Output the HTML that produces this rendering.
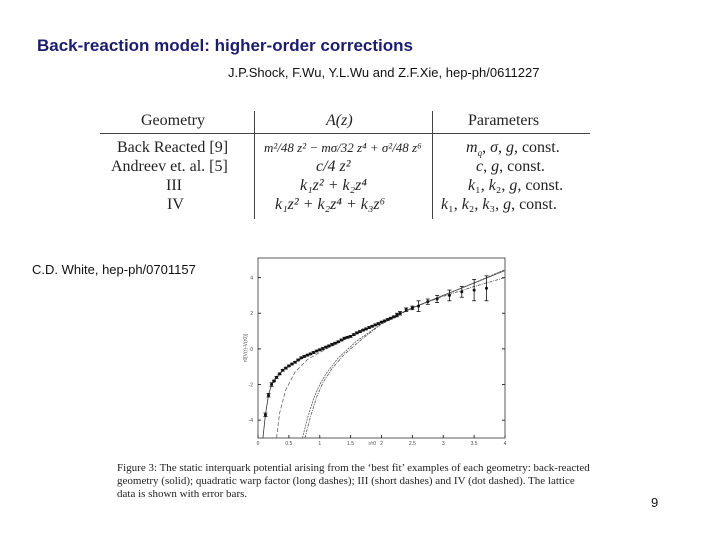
<!DOCTYPE html>
<html><head><meta charset="utf-8"><style>
body{margin:0;width:720px;height:540px;background:#fff;position:relative;overflow:hidden;font-family:"Liberation Sans",sans-serif}
.a{position:absolute;white-space:nowrap}
.tb{font-family:"Liberation Serif",serif;font-size:16px;color:#222}
.cap{font-family:"Liberation Serif",serif;font-size:11px;color:#222;left:117px}
</style></head><body>
<div class="a" style="left:37px;top:36px;font-size:17px;font-weight:bold;color:#1c1c6e">Back-reaction model: higher-order corrections</div>
<div class="a" style="left:228px;top:65px;font-size:13px;color:#111">J.P.Shock, F.Wu, Y.L.Wu and Z.F.Xie, hep-ph/0611227</div>
<div>
<div class="a" style="left:100px;top:133px;width:490px;height:1px;background:#444"></div>
<div class="a" style="left:254px;top:111px;width:1px;height:108px;background:#444"></div>
<div class="a" style="left:432px;top:111px;width:1px;height:108px;background:#444"></div>
<div class="a tb" style="left:141px;top:112px">Geometry</div>
<div class="a tb" style="left:326px;top:112px;font-style:italic">A(z)</div>
<div class="a tb" style="left:468px;top:112px">Parameters</div>
<div class="a tb" style="left:117px;top:139px">Back Reacted [9]</div>
<div class="a tb" style="left:111px;top:158px">Andreev et. al. [5]</div>
<div class="a tb" style="left:166px;top:177px">III</div>
<div class="a tb" style="left:167px;top:196px">IV</div>
<div class="a tb" style="left:264px;top:140px;font-size:13px;font-style:italic">m²/48 z² − mσ/32 z⁴ + σ²/48 z⁶</div>
<div class="a tb" style="left:316px;top:158px;font-style:italic">c/4 z²</div>
<div class="a tb" style="left:300px;top:177px;font-style:italic">k₁z² + k₂z⁴</div>
<div class="a tb" style="left:275px;top:196px;font-style:italic">k₁z² + k₂z⁴ + k₃z⁶</div>
<div class="a tb" style="left:466px;top:139px"><i>m<sub style="font-size:9px">q</sub></i>, <i>σ</i>, <i>g</i>, const.</div>
<div class="a tb" style="left:476px;top:158px"><i>c</i>, <i>g</i>, const.</div>
<div class="a tb" style="left:468px;top:177px"><i>k</i>₁, <i>k</i>₂, <i>g</i>, const.</div>
<div class="a tb" style="left:441px;top:196px"><i>k</i>₁, <i>k</i>₂, <i>k</i>₃, <i>g</i>, const.</div>
</div>
<div class="a" style="left:32px;top:262px;font-size:13px;color:#111">C.D. White, hep-ph/0701157</div>
<svg class="a" style="left:0;top:0" width="720" height="540">
<g id="g"></g>
</svg>
<div class="a cap" style="top:462px;line-height:13px">Figure 3: The static interquark potential arising from the ‘best fit’ examples of each geometry: back-reacted<br>geometry (solid); quadratic warp factor (long dashes); III (short dashes) and IV (dot dashed). The lattice<br>data is shown with error bars.</div>
<div class="a" style="left:651px;top:495px;font-size:13px;color:#111">9</div>
<script>
const xTicks=[0,0.5,1,1.5,2,2.5,3,3.5,4];
const xTickLabels=["0","0.5","1","1.5","2","2.5","3","3.5","4"];
const yTicks=[-4,-2,0,2,4];
const latR=[0.12,0.17,0.22,0.26,0.3,0.35,0.4,0.45,0.5,0.55,0.6,0.65,0.7,0.75,0.8,0.85,0.9,0.95,1.0,1.05,1.1,1.15,1.2,1.25,1.3,1.35,1.4,1.45,1.5,1.55,1.6,1.65,1.7,1.75,1.8,1.85,1.9,1.95,2.0,2.05,2.1,2.15,2.2,2.25,2.3,2.4,2.5,2.6,2.75,2.9,3.1,3.3,3.5,3.7];
const latV=[-3.7,-2.6,-2.0,-1.8,-1.6,-1.4,-1.2,-1.08,-0.95,-0.85,-0.75,-0.62,-0.5,-0.42,-0.35,-0.28,-0.2,-0.12,-0.05,0.02,0.1,0.17,0.25,0.32,0.4,0.5,0.6,0.65,0.7,0.8,0.9,0.97,1.05,1.12,1.2,1.27,1.35,1.42,1.5,1.57,1.65,1.72,1.8,1.9,2.0,2.2,2.3,2.4,2.65,2.8,3.0,3.2,3.3,3.4];
const latE=[0.1,0.1,0.1,0.05,0.05,0.05,0.05,0.05,0.05,0.05,0.05,0.05,0.05,0.05,0.05,0.05,0.05,0.05,0.05,0.05,0.05,0.05,0.05,0.05,0.05,0.05,0.05,0.05,0.05,0.05,0.05,0.05,0.05,0.05,0.05,0.05,0.05,0.05,0.05,0.05,0.05,0.05,0.05,0.1,0.1,0.1,0.1,0.3,0.15,0.2,0.3,0.3,0.6,0.7];
const solidR=[0.08,0.12,0.17,0.22,0.3,0.4,0.6,0.8,1.0,1.5,2.0,2.5,3.0,3.5,4.0];
const solidV=[-5,-3.7,-2.6,-2.0,-1.6,-1.2,-0.75,-0.35,-0.05,0.7,1.5,2.3,3.0,3.7,4.4];
const longR=[0.3,0.35,0.45,0.6,0.8,1.0,1.3,1.6,2.0,2.5,3.0,3.5,4.0];
const longV=[-5,-3.6,-2.3,-1.3,-0.6,-0.2,0.35,0.85,1.5,2.3,3.0,3.7,4.4];
const shortR=[0.72,0.8,0.9,1.0,1.1,1.3,1.6,2.0,2.5,3.0,3.5,4.0];
const shortV=[-5,-3.9,-2.8,-2.0,-1.4,-0.5,0.45,1.4,2.3,3.0,3.7,4.45];
const dotR=[0.76,0.85,0.95,1.05,1.2,1.4,1.7,2.0,2.5,3.0,3.5,4.0];
const dotV=[-5,-3.8,-2.7,-1.9,-1.1,-0.3,0.6,1.4,2.3,2.95,3.5,4.0];
const X0=258,X1=505,Y0=438,Y1=258,xmin=0,xmax=4,ymin=-5,ymax=5.1;
const sx=v=>X0+(v-xmin)/(xmax-xmin)*(X1-X0);
const sy=v=>Y0-(v-ymin)/(ymax-ymin)*(Y0-Y1);
const NS="http://www.w3.org/2000/svg",g=document.getElementById('g');
function mk(t,a){const e=document.createElementNS(NS,t);for(const k in a)e.setAttribute(k,a[k]);g.appendChild(e);return e;}
let fr=mk('rect',{x:X0,y:Y1,width:X1-X0,height:Y0-Y1,fill:'none',stroke:'#333','stroke-width':0.8});


xTicks.forEach((t,i)=>{mk('line',{x1:sx(t),x2:sx(t),y1:Y0,y2:Y0-3,stroke:'#333'});
let tx=mk('text',{x:sx(t),y:Y0+7,'font-size':5,'text-anchor':'middle',fill:'#444'});tx.textContent=xTickLabels[i];

});
yTicks.forEach(t=>{mk('line',{x1:X0,x2:X0+3,y1:sy(t),y2:sy(t),stroke:'#333'});mk('line',{x1:X1,x2:X1-3,y1:sy(t),y2:sy(t),stroke:'#333'});
let tx=mk('text',{x:X0-5,y:sy(t)+2,'font-size':5,'text-anchor':'end',fill:'#444'});tx.textContent=t;

});
let yl=mk('text',{x:0,y:0,'font-size':5,fill:'#555',transform:`translate(247,348) rotate(-90)`,'text-anchor':'middle'});yl.textContent='r0[V(r)-V(r0)]';


let xl=mk('text',{x:sx(1.85),y:Y0+7,'font-size':5,fill:'#555','text-anchor':'middle'});xl.textContent='r/r0';


function curve(R,V,dash,name,col){let d=R.map((r,i)=>(i?'L':'M')+sx(r)+','+sy(V[i])).join('');
let p=mk('path',{d,fill:'none',stroke:col,'stroke-width':0.8,'stroke-dasharray':dash});

}
curve(solidR,solidV,'none','back-reacted-curve','#333');
curve(longR,longV,'4 2','quadratic-curve','#666');
curve(shortR,shortV,'2 1','curve-iii','#555');
curve(dotR,dotV,'3 1 1 1','curve-iv','#555');
latR.forEach((r,i)=>{let x=sx(r);
mk('line',{x1:x,x2:x,y1:sy(latV[i]-latE[i]),y2:sy(latV[i]+latE[i]),stroke:'#111','stroke-width':0.8});
mk('line',{x1:x-2,x2:x+2,y1:sy(latV[i]-latE[i]),y2:sy(latV[i]-latE[i]),stroke:'#111','stroke-width':0.8});
mk('line',{x1:x-2,x2:x+2,y1:sy(latV[i]+latE[i]),y2:sy(latV[i]+latE[i]),stroke:'#111','stroke-width':0.8});
let c=mk('circle',{cx:x,cy:sy(latV[i]),r:1.5,fill:'#111'});

});
</script>
</body></html>
